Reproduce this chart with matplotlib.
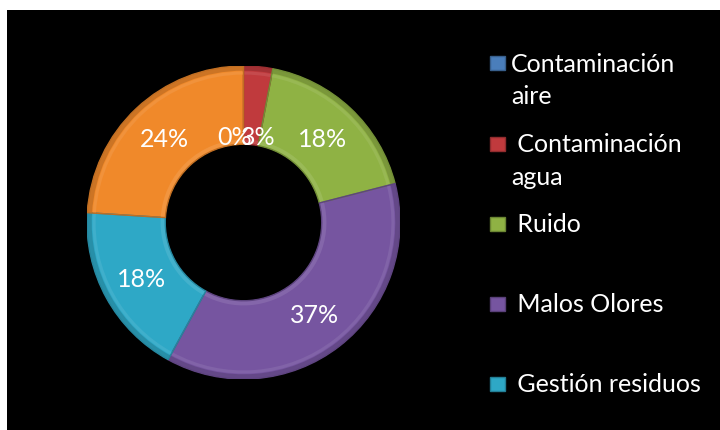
import matplotlib
matplotlib.use("Agg")
import matplotlib.pyplot as plt
import matplotlib.colors as mcolors
from matplotlib.patches import Rectangle, Wedge
import numpy as np

plt.rcParams['font.family'] = ['Lato', 'DejaVu Sans']

# datos de la encuesta (en %)
categorias = ["Contaminación aire", "Contaminación agua", "Ruido",
              "Malos Olores", "Gestión residuos", "Otros"]
valores = [0, 3, 18, 37, 18, 24]
colores = ["#4A7EBB", "#C03A3D", "#8FB244", "#7655A0", "#2EA8C6", "#F0892A"]

# textos de la leyenda (solo las cinco primeras series caben)
leyenda_lineas = [["Contaminación", "aire"], [" Contaminación", "agua"],
                  [" Ruido"], [" Malos Olores"], [" Gestión residuos"]]

W, H = 720, 431
fig = plt.figure(figsize=(W / 100, H / 100), dpi=100, facecolor="white")

# fondo negro
fondo = fig.add_axes([7 / W, 0, (W - 7) / W, (H - 11) / H])
fondo.set_facecolor("black")
fondo.set_xticks([])
fondo.set_yticks([])
for s in fondo.spines.values():
    s.set_visible(False)

# anillo
cx, cy, R = 243.5, 223.5, 156.5
ax = fig.add_axes([(cx - R) / W, (H - cy - R) / H, 2 * R / W, 2 * R / H])
ax.set_facecolor("none")


def tono(c, f):
    r, g, b = mcolors.to_rgb(c)
    if f < 1:
        return (r * f, g * f, b * f)
    return (r + (1 - r) * (f - 1), g + (1 - g) * (f - 1), b + (1 - b) * (f - 1))


wedges, textos, autotextos = ax.pie(
    valores, colors=colores, startangle=90, counterclock=False, radius=1,
    wedgeprops=dict(width=0.5, edgecolor="none"),
    autopct="%.0f%%", pctdistance=0.74,
    textprops=dict(color="white", fontsize=18))

# biselado: bandas algo mas oscuras en los bordes del anillo
for w, c in zip(wedges, colores):
    if w.theta2 - w.theta1 <= 0:
        continue
    ax.add_patch(Wedge((0, 0), 1.0, w.theta1, w.theta2, width=0.03,
                       facecolor=tono(c, 0.85), edgecolor="none"))
    ax.add_patch(Wedge((0, 0), 0.965, w.theta1, w.theta2, width=0.02,
                       facecolor=tono(c, 1.08), edgecolor="none"))
    ax.add_patch(Wedge((0, 0), 0.53, w.theta1, w.theta2, width=0.03,
                       facecolor=tono(c, 1.1), edgecolor="none"))
    ax.add_patch(Wedge((0, 0), 1.0, w.theta1, w.theta2, width=0.5,
                       facecolor="none", edgecolor=tono(c, 0.8), lw=1.0))

# etiquetas de las porciones pequeñas, junto al hueco
for i, t in enumerate(autotextos):
    if valores[i] < 5:
        w = wedges[i]
        ang = np.deg2rad((w.theta1 + w.theta2) / 2)
        dx = -0.06 if valores[i] == 0 else 0.04
        t.set_position((0.55 * np.cos(ang) + dx, 0.55 * np.sin(ang)))

ax.set_xlim(-1, 1)
ax.set_ylim(-1, 1)
ax.set_aspect("equal")
ax.axis("off")

# leyenda
capa = fig.add_axes([0, 0, 1, 1])
capa.set_xlim(0, W)
capa.set_ylim(H, 0)
capa.axis("off")
capa.set_facecolor("none")
y_marcas = [64, 145, 225, 305, 385]
for lineas, c, y in zip(leyenda_lineas, colores, y_marcas):
    capa.add_patch(Rectangle((490, y - 7), 15, 14, facecolor=c,
                             edgecolor=tono(c, 0.75), lw=1))
    for k, linea in enumerate(lineas):
        capa.text(511, y + 33 * k, linea, color="white", fontsize=18,
                  va="center", ha="left")

fig.savefig("out.png", dpi=100, facecolor="white")
